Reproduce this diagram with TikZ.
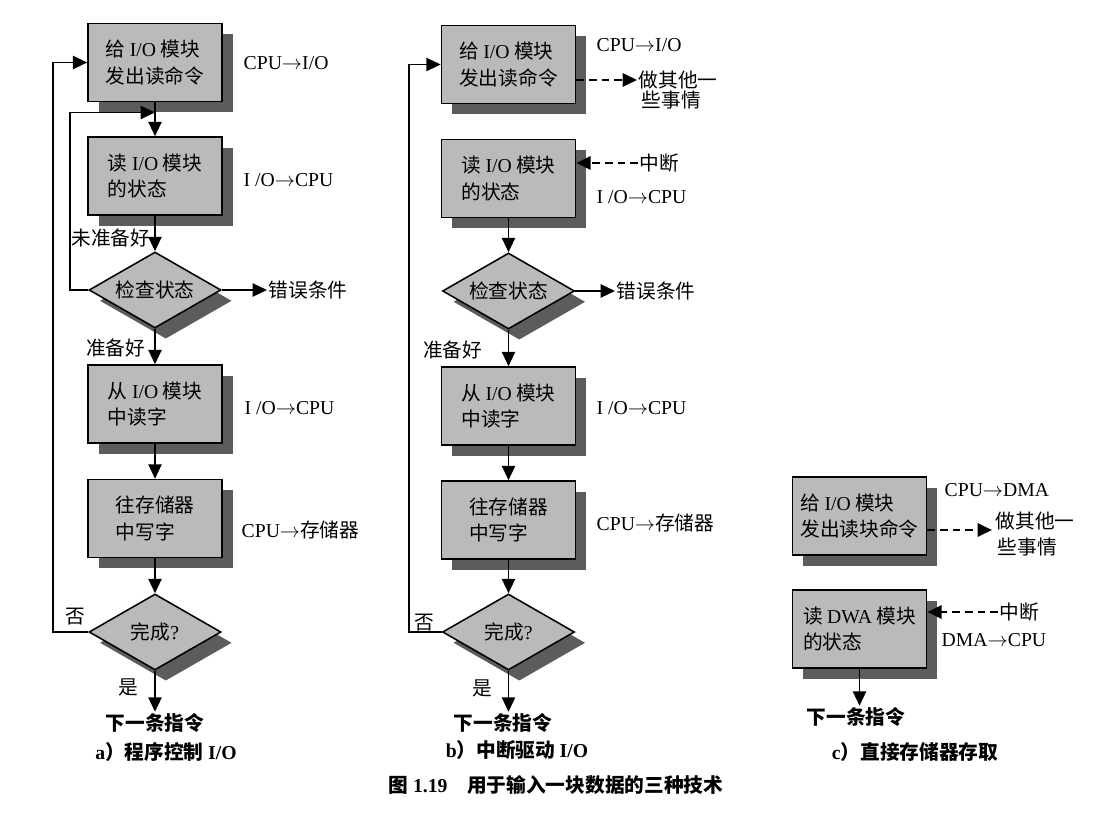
\documentclass[tikz,border=0pt]{standalone}
\usepackage{fontspec}
\setmainfont{Noto Sans CJK SC}
\newfontfamily\latinfont{Liberation Serif}
\usetikzlibrary{shapes.geometric,arrows.meta,shadows,calc}
\newcommand{\latn}[1]{{\latinfont #1}}
\newcommand{\toarr}{\ensuremath{\rightarrow}}
\tikzset{
  stepbox/.style={draw=black, line width=1.1pt, fill=black!27, minimum width=3.35cm,
    minimum height=1.95cm, align=left, inner sep=2pt, font=\fontsize{14}{19}\selectfont,
    drop shadow={shadow xshift=0.27cm, shadow yshift=-0.27cm, fill=black!64, opacity=1}},
  check/.style={stepbox, shape=diamond, aspect=1.7, minimum width=3.3cm,
    minimum height=1.9cm, inner sep=0pt},
  lbl/.style={font=\fontsize{14}{17}\selectfont, inner sep=1pt, anchor=west},
  tag/.style={font=\fontsize{14}{17}\selectfont, inner sep=1pt},
  nextinst/.style={font=\bfseries\fontsize{14}{17}\selectfont, inner sep=1pt},
  flow/.style={-{Triangle[length=3.6mm,width=3.3mm]}, line width=1.3pt},
  dashflow/.style={flow, line width=2pt, dash pattern=on 5.5pt off 3.5pt},
}

\begin{document}
\begin{tikzpicture}[x=0.025cm,y=-0.025cm]
\useasboundingbox (0,0) rectangle (1112,814);
% a) programmed I/O
\node[stepbox] (issueA) at (155,62.5) {给 \latn{I/O} 模块\\发出读命令};
\node[stepbox] (statA) at (155,176) {读 \latn{I/O} 模块\\的状态};
\node[check] (chkA) at (155,290) {检查状态};
\node[stepbox] (readA) at (155,404) {从 \latn{I/O} 模块\\中读字};
\node[stepbox] (writeA) at (155,518.5) {往存储器\\中写字};
\node[check] (doneA) at (155,632) {完成\latn{?}};
\node[nextinst] (nextA) at (155,723) {下一条指令};
\node[lbl] (cpuA) at (242,63) {\latn{CPU\toarr I/O}};
\node[lbl] (ioA) at (242,180) {\latn{I /O\toarr CPU}};
\node[lbl] (errA) at (267,290) {错误条件};
\node[lbl] (io2A) at (243,408) {\latn{I /O\toarr CPU}};
\node[lbl] (memA) at (240,530) {\latn{CPU\toarr}存储器};
\node[tag, anchor=east] (notrdyA) at (152,238) {未准备好};
\node[tag, anchor=east] (rdyA) at (147,348) {准备好};
\node[tag] (noA) at (75,617) {否};
\node[tag] (yesA) at (128,687) {是};
\node[nextinst] (capA) at (166,752) {\latn{a}）程序控制 \latn{I/O}};
\coordinate (joinA) at ($(issueA.south)!0.3!(statA.north)$);
\draw[flow] (issueA) -- (statA);
\draw[flow] (statA) -- (chkA);
\draw[flow] (chkA) -- (readA);
\draw[flow] (readA) -- (writeA);
\draw[flow] (writeA) -- (doneA);
\draw[flow] (doneA) -- (nextA);
\draw[flow] (chkA.east) -- (errA.west);
\draw[flow] (chkA.west) -- ++(-18,0) |- (joinA);
\draw[flow] (doneA.west) -- ++(-35,0) |- (issueA.west);
% b) interrupt-driven I/O
\node[stepbox] (issueB) at (508.5,64.5) {给 \latn{I/O} 模块\\发出读命令};
\node[stepbox] (statB) at (508.5,178.5) {读 \latn{I/O} 模块\\的状态};
\node[check] (chkB) at (508.5,291) {检查状态};
\node[stepbox] (readB) at (508.5,406) {从 \latn{I/O} 模块\\中读字};
\node[stepbox] (writeB) at (508.5,520) {往存储器\\中写字};
\node[check] (doneB) at (508.5,632) {完成\latn{?}};
\node[nextinst] (nextB) at (503,723) {下一条指令};
\node[lbl] (cpuB) at (595,45) {\latn{CPU\toarr I/O}};
\node[lbl] (otherB1) at (637,80) {做其他一};
\node[lbl] (otherB2) at (640,100) {些事情};
\node[lbl] (intB) at (638,163) {中断};
\node[lbl] (ioB) at (595,197) {\latn{I /O\toarr CPU}};
\node[lbl] (errB) at (615,291) {错误条件};
\node[lbl] (io2B) at (595,408) {\latn{I /O\toarr CPU}};
\node[lbl] (memB) at (595,523) {\latn{CPU\toarr}存储器};
\node[tag, anchor=east] (rdyB) at (484,350) {准备好};
\node[tag] (noB) at (424,623) {否};
\node[tag] (yesB) at (482,688) {是};
\node[nextinst] (capB) at (517,750) {\latn{b}）中断驱动 \latn{I/O}};
\draw[dashflow] (issueB.east |- otherB1.west) -- (otherB1.west);
\draw[dashflow] (intB.west) -- (statB.east |- intB.west);
\draw[flow] (statB) -- (chkB);
\draw[flow] (chkB) -- (readB);
\draw[flow] (readB) -- (writeB);
\draw[flow] (writeB) -- (doneB);
\draw[flow] (doneB.south) -- (doneB.south |- nextB.north);
\draw[flow] (chkB.east) -- (errB.west);
\draw[flow] (doneB.west) -- ++(-33,0) |- (issueB.west);
% c) direct memory access
\node[stepbox] (issueC) at (859.5,516) {给 \latn{I/O} 模块\\发出读块命令};
\node[stepbox] (statC) at (859.5,629) {读 \latn{DWA} 模块\\的状态};
\node[nextinst] (nextC) at (856,717) {下一条指令};
\node[lbl] (cpuC) at (943,490) {\latn{CPU\toarr DMA}};
\node[lbl] (otherC1) at (994,521) {做其他一};
\node[lbl] (otherC2) at (996,547) {些事情};
\node[lbl] (intC) at (998,612) {中断};
\node[lbl] (dmaC) at (940,640) {\latn{DMA\toarr CPU}};
\node[nextinst] (capC) at (915,752) {\latn{c}）直接存储器存取};
\coordinate (dotC) at (992,530);
\draw[dashflow] (issueC.east |- dotC) -- (dotC);
\draw[dashflow] (intC.west) -- (statC.east |- intC.west);
\draw[flow] (statC.south) -- (statC.south |- nextC.north);
% caption
\node[nextinst] (figcap) at (556,785) {图 \latn{1.19}\quad 用于输入一块数据的三种技术};
\end{tikzpicture}
\end{document}
